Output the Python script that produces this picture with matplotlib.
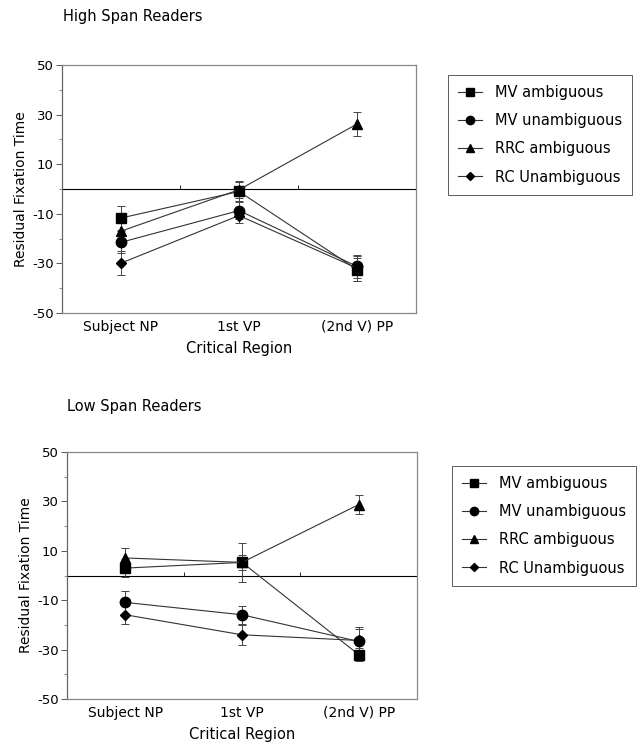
import matplotlib
matplotlib.use("Agg")
import matplotlib.pyplot as plt
from matplotlib.lines import Line2D

plt.rcParams['font.family'] = ['DejaVu Sans']

categories = ["Subject NP", "1st VP", "(2nd V) PP"]
series_names = ["MV ambiguous", "MV unambiguous", "RRC ambiguous", "RC Unambiguous"]
markers = ["s", "o", "^", "D"]
msizes = [7, 7.5, 7, 5]

# High span readers
high_mv_amb = [-11.7, -1.0, -32.5]
high_mv_unamb = [-21.5, -8.7, -31.2]
high_rrc_amb = [-17.0, -0.3, 26.2]
high_rc_unamb = [-29.9, -10.7, -31.9]
high_err_mv_amb = [5.0, 4.0, 4.5]
high_err_mv_unamb = [4.5, 3.5, 4.5]
high_err_rrc_amb = [4.0, 3.5, 4.8]
high_err_rc_unamb = [4.7, 3.2, 5.0]

# Low span readers
low_mv_amb = [3.0, 5.3, -32.0]
low_mv_unamb = [-10.9, -15.9, -26.7]
low_rrc_amb = [7.1, 5.3, 28.7]
low_rc_unamb = [-15.9, -24.0, -26.3]
low_err_mv_amb = [3.5, 3.0, 2.5]
low_err_mv_unamb = [4.8, 3.7, 5.8]
low_err_rrc_amb = [4.0, 7.8, 4.0]
low_err_rc_unamb = [3.6, 4.0, 4.5]

yticks = [50, 30, 10, -10, -30, -50]
yminor = [40, 20, 0, -20, -40]

fig = plt.figure(figsize=(6.37, 7.49), dpi=100)

def draw(rect, title, vals, errs, legend_anchor, title_pos):
    ax = fig.add_axes(rect)
    x = list(range(len(categories)))
    ax.axhline(0, color='black', lw=0.8, zorder=1)
    ax.plot([0.5, 1.5], [0, 0], linestyle='none', marker=2, markersize=3,
            color='black', markeredgewidth=0.6)
    for v, e, m, ms in zip(vals, errs, markers, msizes):
        ax.errorbar(x, v, yerr=e, fmt='none', ecolor='#444444', elinewidth=0.7,
                    capsize=3, capthick=0.7, zorder=2)
        ax.plot(x, v, color='#333333', lw=0.8, marker=m, markersize=ms,
                markerfacecolor='black', markeredgecolor='black', zorder=3)
    ax.set_xlim(-0.5, 2.5)
    ax.set_ylim(-50, 50)
    ax.set_xticks(x)
    ax.set_xticklabels(categories, fontsize=10)
    ax.tick_params(axis='x', length=0, pad=5)
    ax.set_yticks(yticks)
    ax.set_yticklabels([str(t) for t in yticks], fontsize=9.5)
    ax.set_yticks(yminor, minor=True)
    ax.tick_params(axis='y', which='major', length=4, width=0.7, pad=2, color='#555555')
    ax.tick_params(axis='y', which='minor', length=2, width=0.6, color='#777777')
    for s in ['top', 'right', 'bottom']:
        ax.spines[s].set_color('#888888')
        ax.spines[s].set_linewidth(0.9)
    ax.spines['left'].set_color('#666666')
    ax.spines['left'].set_linewidth(0.9)
    ax.set_ylabel("Residual Fixation Time", fontsize=10, labelpad=3)
    ax.set_xlabel("Critical Region", fontsize=10.5, labelpad=5)
    fig.text(title_pos[0], title_pos[1], title, fontsize=10.5,
             ha='left', va='center')
    handles = [Line2D([0], [0], color='#333333', lw=0.8, marker=m, markersize=ms,
                      markerfacecolor='black', markeredgecolor='black')
               for m, ms in zip(markers, msizes)]
    leg = fig.legend(handles, series_names, loc='upper left',
                     bbox_to_anchor=legend_anchor, bbox_transform=fig.transFigure,
                     fontsize=10.5, frameon=True, fancybox=False, edgecolor='#333333',
                     handlelength=1.6, handletextpad=0.9, labelspacing=0.9,
                     borderpad=0.7, borderaxespad=0, markerscale=0.8)
    leg.get_frame().set_linewidth(0.7)
    return ax

draw([62/637, 1-313/749, (416-62)/637, (313-65)/749], "High Span Readers",
     [high_mv_amb, high_mv_unamb, high_rrc_amb, high_rc_unamb],
     [high_err_mv_amb, high_err_mv_unamb, high_err_rrc_amb, high_err_rc_unamb],
     (448/637, 1-75/749), (63/637, 1-17/749))

draw([67/637, 1-699/749, (417-67)/637, (699-452)/749], "Low Span Readers",
     [low_mv_amb, low_mv_unamb, low_rrc_amb, low_rc_unamb],
     [low_err_mv_amb, low_err_mv_unamb, low_err_rrc_amb, low_err_rc_unamb],
     (452/637, 1-466/749), (67/637, 1-407/749))

fig.savefig("out.png", dpi=100)
